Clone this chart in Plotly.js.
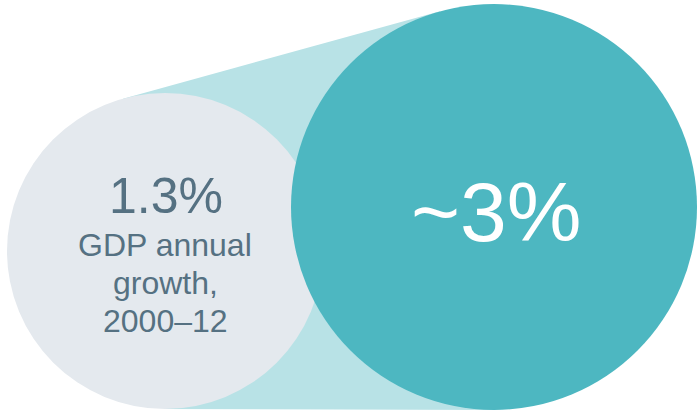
<!DOCTYPE html>
<html>
<head>
<meta charset="utf-8">
<script src="https://cdn.plot.ly/plotly-3.0.1.min.js"></script>
<style>html,body{margin:0;padding:0;background:#fff;}#chart{width:697px;height:411px;}</style>
</head>
<body>
<div id="chart"></div>
<script>
// ---- data ----
const metrics = ["GDP annual growth, 2000–12", "Target growth"];
const values = [1.3, 3];
const valueLabels = ["1.3%", "~3%"];
const captionLines = ["GDP annual", "growth,", "2000–12"];

// ---- layout geometry (in plot units == pixels) ----
const W = 697, H = 411;
const small = {cx: 165, cy: 251, r: 158};
const big = {cx: 494, cy: 207, r: 203};

const colGrey = "#E4E9EE";
const colTeal = "#4DB7C1";
const colBand = "#B8E2E6";
const colText = "#557182";
const font = "Liberation Sans, Arial, sans-serif";

// external tangent points
function tangents(c1, c2) {
  const dx = c2.cx - c1.cx, dy = c2.cy - c1.cy;
  const D = Math.hypot(dx, dy);
  const ux = dx / D, uy = dy / D;
  const vx = -uy, vy = ux;
  const a = (c1.r - c2.r) / D;
  const out = [];
  [-1, 1].forEach(s => {
    const b = s * Math.sqrt(1 - a * a);
    const nx = a * ux + b * vx, ny = a * uy + b * vy;
    out.push([[c1.cx + c1.r * nx, c1.cy + c1.r * ny], [c2.cx + c2.r * nx, c2.cy + c2.r * ny]]);
  });
  return out;
}
const tg = tangents(small, big);
const bandPath = "M " + tg[0][0].join(" ") + " L " + tg[0][1].join(" ") +
  " L " + tg[1][1].join(" ") + " L " + tg[1][0].join(" ") + " Z";

function circ(c, color) {
  return {type: "circle", xref: "x", yref: "y", x0: c.cx - c.r, x1: c.cx + c.r,
    y0: c.cy - c.r, y1: c.cy + c.r, fillcolor: color, line: {width: 0}, layer: "below"};
}

const shapes = [
  {type: "path", xref: "x", yref: "y", path: bandPath, fillcolor: colBand, line: {width: 0}, layer: "below"},
  circ(small, colGrey),
  circ(big, colTeal)
];

const annotations = [
  {x: small.cx + 1, y: 196, text: valueLabels[0], showarrow: false, xanchor: "center", yanchor: "middle",
   font: {family: font, size: 50, color: colText}},
  {x: big.cx + 2, y: 212, text: valueLabels[1], showarrow: false, xanchor: "center", yanchor: "middle",
   font: {family: font, size: 84, color: "#FFFFFF"}}
];
const captionY = [245, 283, 321];
captionLines.forEach((t, i) => {
  annotations.push({x: small.cx, y: captionY[i], text: t, showarrow: false, xanchor: "center", yanchor: "middle",
    font: {family: font, size: 32, color: colText}});
});

const layout = {
  width: W, height: H,
  margin: {l: 0, r: 0, t: 0, b: 0, pad: 0},
  paper_bgcolor: "#FFFFFF", plot_bgcolor: "#FFFFFF",
  xaxis: {range: [0, W], visible: false, fixedrange: true},
  yaxis: {range: [H, 0], visible: false, fixedrange: true},
  shapes: shapes,
  annotations: annotations,
  showlegend: false
};

Plotly.newPlot("chart", [{x: [], y: [], type: "scatter", mode: "markers", hoverinfo: "skip"}], layout,
  {staticPlot: true, displayModeBar: false});
</script>
</body>
</html>
